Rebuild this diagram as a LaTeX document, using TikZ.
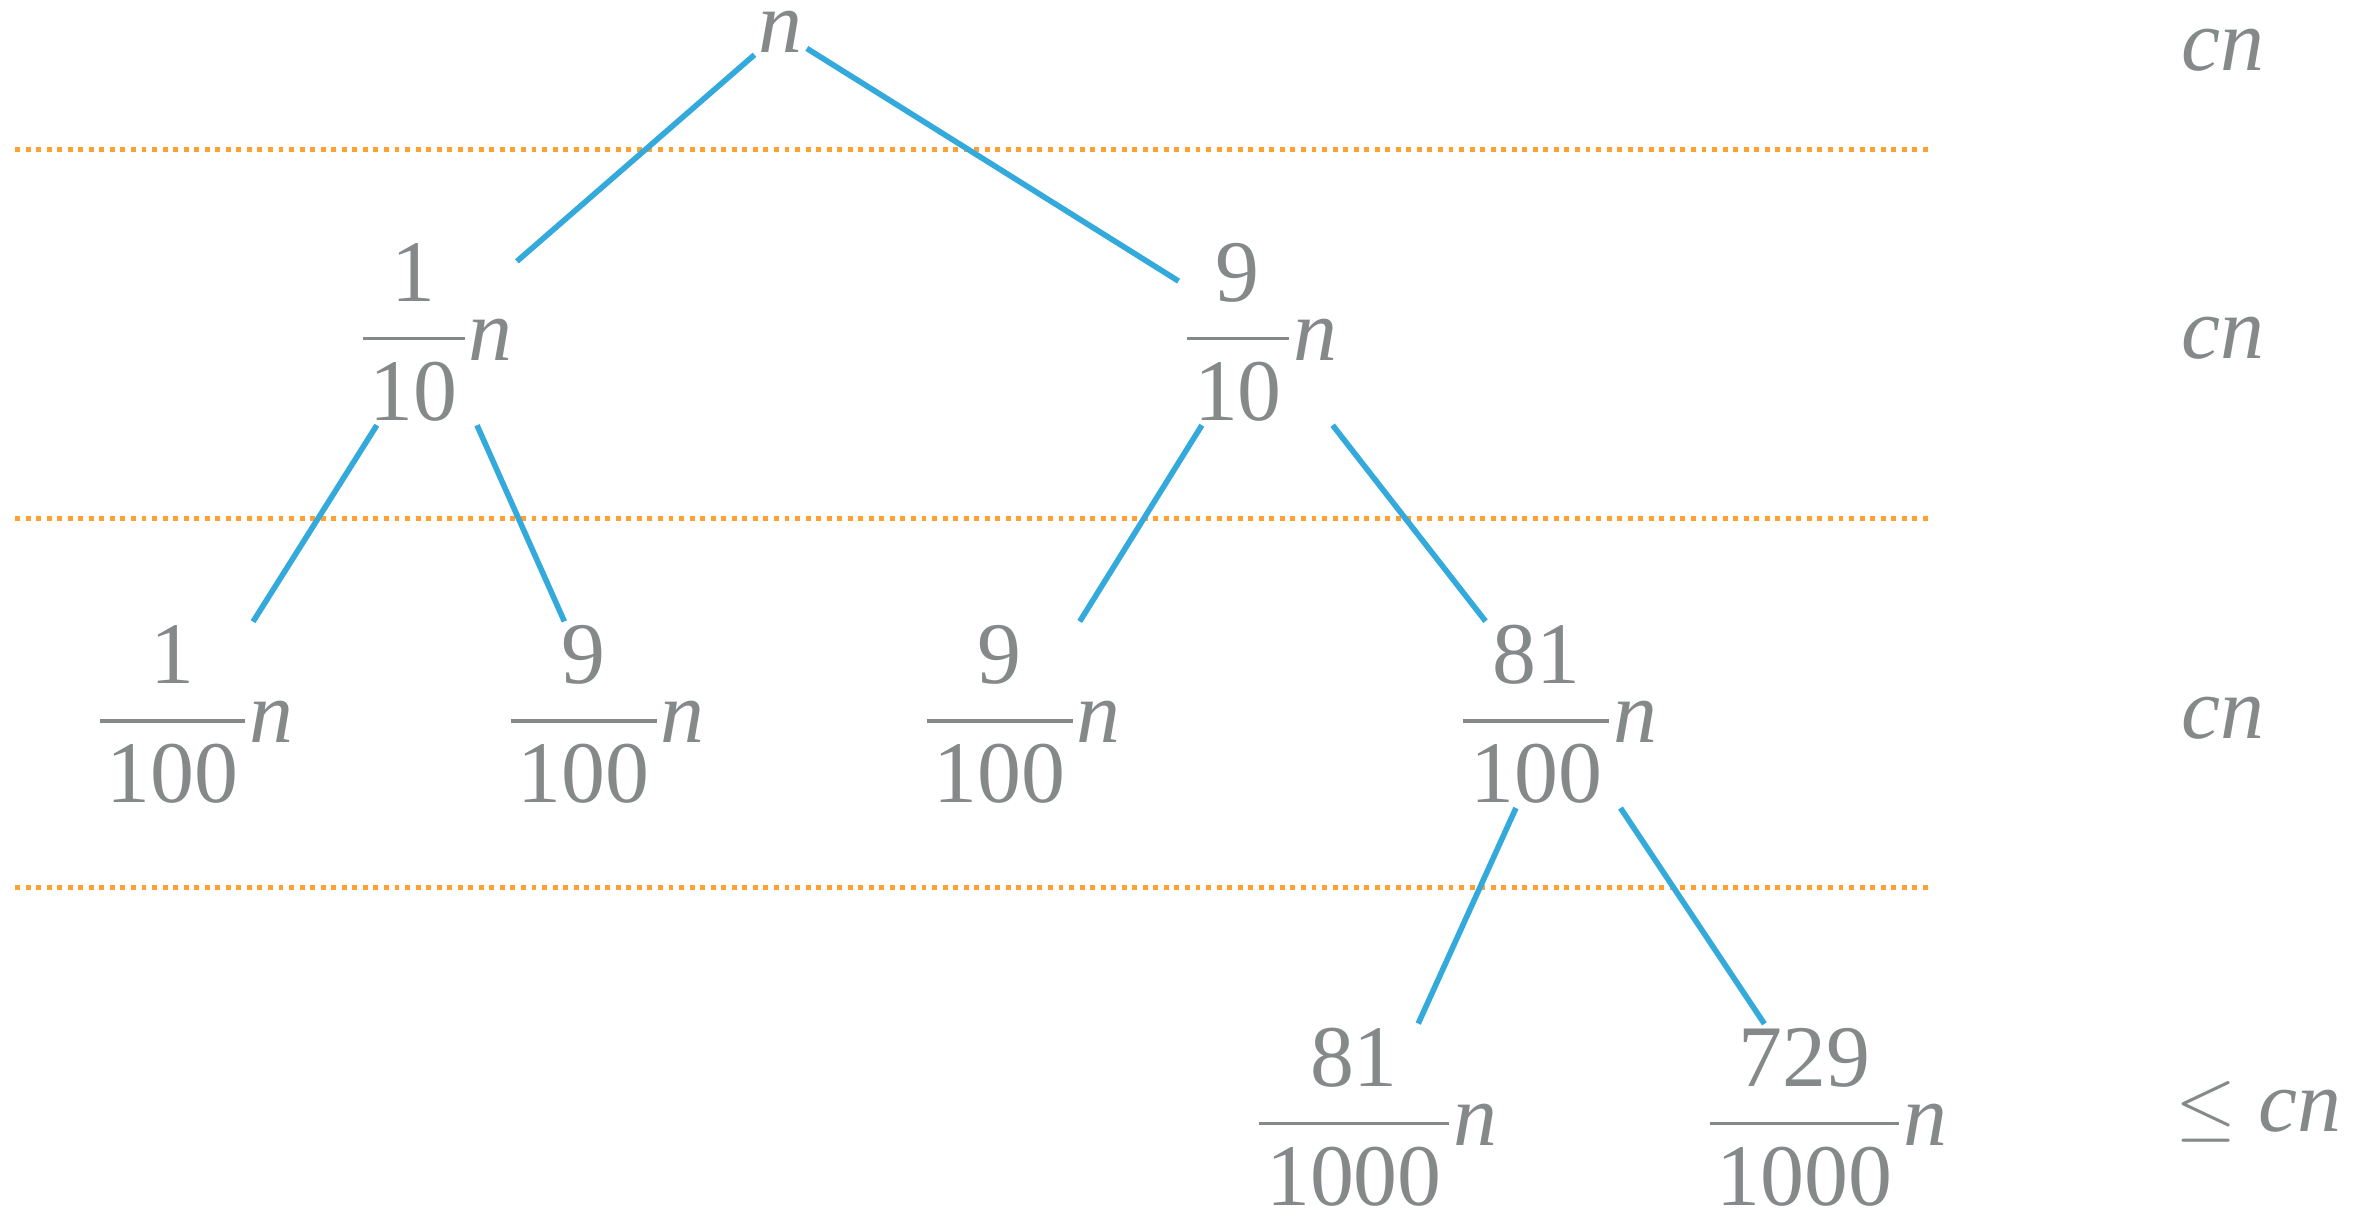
\documentclass[tikz,border=0pt]{standalone}
\usepackage{amsmath}
\usepackage{graphicx}
\usepackage{fontspec}
\setmainfont{Liberation Serif}
\usepackage{tikz}
\definecolor{txtgray}{RGB}{133,137,137}
\definecolor{edgeblue}{RGB}{52,170,220}
\definecolor{lineorange}{RGB}{255,160,50}
\newcommand{\nfrac}[2]{$\dfrac{\text{\kern.08em#1\kern.08em}}{\text{\kern.08em#2\kern.08em}}$\textit{n}}

\begin{document}
\begin{tikzpicture}[x=0.01507cm, y=-0.01507cm,
    term/.style={text=txtgray, font=\fontsize{25}{30}\selectfont, inner sep=1pt, anchor=base},
    cost/.style={text=txtgray, font=\fontsize{25}{30}\selectfont, inner sep=0pt, anchor=base west},
    edge/.style={edgeblue, line width=1.6pt},
    levelsep/.style={lineorange, line width=1.4pt, dash pattern=on 1.4pt off 1.6pt}]
    \useasboundingbox (0,0) rectangle (1568,808);
    % level separators
    \foreach \y in {99,344,589} {
        \draw[levelsep] (10,\y) -- (1280,\y);
    }
    % recursion tree
    \node[term] (root) at (518,35) {\textit{n}};
    \node[term] (l1a) at (289,239) {\nfrac{1}{10}};
    \node[term] (l1b) at (836,239) {\nfrac{9}{10}};
    \node[term] (l2a) at (129,493) {\nfrac{1}{100}};
    \node[term] (l2b) at (402,493) {\nfrac{9}{100}};
    \node[term] (l2c) at (678,493) {\nfrac{9}{100}};
    \node[term] (l2d) at (1034,493) {\nfrac{81}{100}};
    \node[term] (l3a) at (913,760) {\nfrac{81}{1000}};
    \node[term] (l3b) at (1212,760) {\nfrac{729}{1000}};
    \draw[edge] (root) -- (l1a);
    \draw[edge] (root) -- (l1b);
    \draw[edge] (l1a) -- (l2a);
    \draw[edge] (l1a) -- (l2b);
    \draw[edge] (l1b) -- (l2c);
    \draw[edge] (l1b) -- (l2d);
    \draw[edge] (l2d) -- (l3a);
    \draw[edge] (l2d) -- (l3b);
    % cost per level
    \node[cost] (c0) at (1447,47) {\textit{cn}};
    \node[cost] (c1) at (1447,238) {\textit{cn}};
    \node[cost] (c2) at (1447,490) {\textit{cn}};
    \node[cost] (c3) at (1443,751) {\scalebox{0.9}{$\leq$} \textit{cn}};
\end{tikzpicture}
\end{document}
